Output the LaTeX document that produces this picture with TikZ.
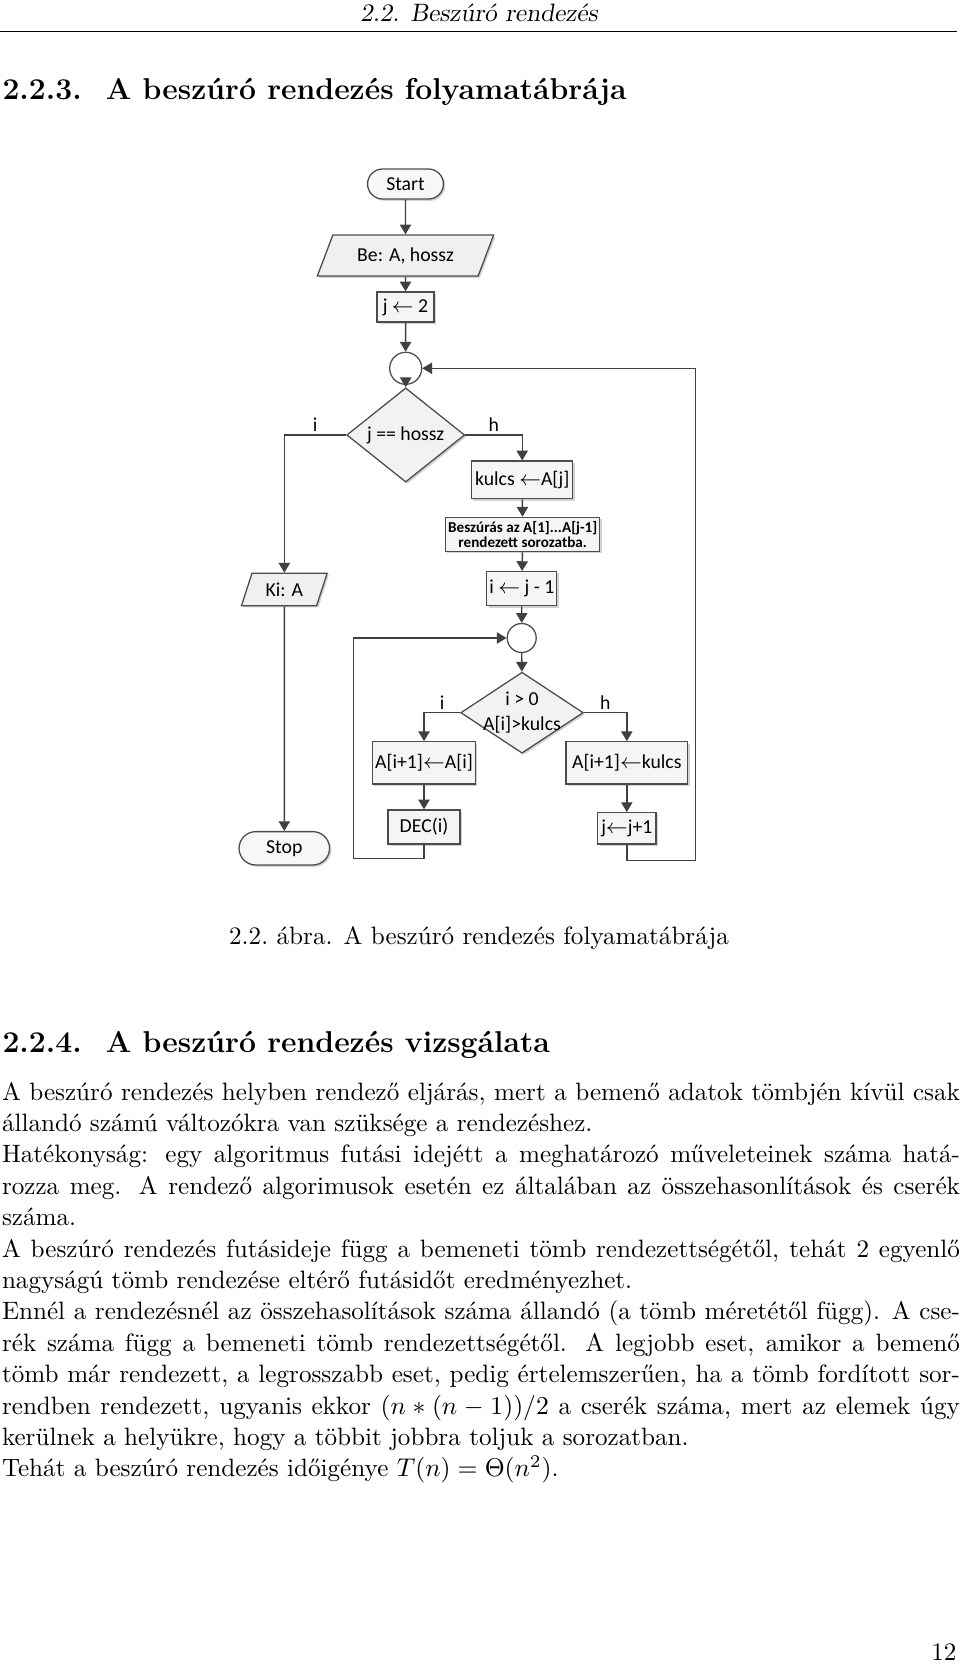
\documentclass[tikz,border=0pt]{standalone}
\usepackage{fontspec}
\usepackage{amsmath}
\usetikzlibrary{arrows.meta,shapes.geometric,shapes.misc,shadows}
\newfontfamily\chartfont{Carlito}
\newlength\bodywidth
\setlength\bodywidth{373.6pt}

\tikzset{
  chart/.style={font=\chartfont\fontsize{7.7}{9}\selectfont},
  line/.style={draw=black!75, line width=0.55pt},
  flow/.style={line, -{Triangle[length=3.8pt,width=4.4pt]}},
  shade/.style={drop shadow={shadow xshift=0.7pt,shadow yshift=-0.7pt,fill=black!35}},
  procbox/.style={rectangle, draw=black!70, fill=black!4, line width=0.5pt, inner sep=1pt, shade, chart},
  iobox/.style={trapezium, trapezium stretches=true, draw=black!70, fill=black!6, line width=0.5pt, inner sep=1pt, shade, chart},
  termbox/.style={rounded rectangle, draw=black!70, fill=black!3, line width=0.5pt, inner sep=1pt, shade, chart},
  joint/.style={circle, draw=black!70, fill=white, line width=0.5pt, inner sep=0pt},
  decision/.style={diamond, draw=black!70, fill=black!5, line width=0.5pt, inner sep=0pt, shade, chart},
  branch/.style={chart, inner sep=1pt},
  pagetext/.style={font=\fontsize{9.8}{12.25}\selectfont, inner sep=0pt},
  sectitle/.style={font=\fontsize{11.75}{14}\selectfont\bfseries, inner sep=0pt}
}

\begin{document}
\begin{tikzpicture}[x=0.39pt,y=-0.39pt]
\useasboundingbox (0,0) rectangle (960,1665);

% page head
\node[pagetext, anchor=base] (head) at (479,22) {\slshape 2.2. Beszúró rendezés};
\draw[line width=0.4pt] (0,31.7) -- (957,31.7);
\node[sectitle, anchor=base west] (sec1) at (2,100) {2.2.3.\hskip 9.4pt A beszúró rendezés folyamatábrája};

% flowchart
\node[termbox, minimum width=31.6pt, minimum height=11.7pt] (start) at (405.5,184) {Start};
\node[iobox, trapezium left angle=63, trapezium right angle=117, minimum width=69pt, minimum height=16pt] (be) at (405.5,255.5) {Be: A, hossz};
\node[procbox, minimum width=22.2pt, minimum height=11.7pt] (j2) at (405.5,307) {j $\leftarrow$ 2};
\node[joint, minimum size=12.5pt] (c1) at (405.7,368.3) {};
\node[decision, minimum width=46pt, minimum height=24.6pt] (d1) at (405.7,435) {j == hossz};

\node[procbox, minimum width=39.4pt, minimum height=14.7pt] (kulcs) at (522.2,479.9) {kulcs $\leftarrow$A[j]};
\node[procbox, minimum width=59.8pt, minimum height=13.4pt, align=center,
      font=\chartfont\fontsize{5.9}{6.2}\selectfont\bfseries] (besz) at (522.7,534.5) {Beszúrás az A[1]...A[j-1]\\rendezett sorozatba.};
\node[procbox, minimum width=26.1pt, minimum height=13.3pt] (ij) at (521.8,588.7) {i $\leftarrow$ j - 1};
\node[joint, minimum size=11.3pt] (c2) at (521.7,638) {};
\node[decision, minimum width=47.8pt, minimum height=31.6pt,
      label={[chart, align=center, inner sep=0pt]center:{i > 0\\[1pt]A[i]>kulcs}}] (d2) at (522,712.7) {};

\node[iobox, trapezium left angle=70, trapezium right angle=110, minimum width=33.4pt, minimum height=12.6pt] (ki) at (284.3,589.5) {Ki: A};
\node[termbox, minimum width=37.3pt, minimum height=13pt] (stop) at (284.3,848.3) {Stop};

\node[procbox, minimum width=39pt, minimum height=16.5pt] (a1) at (424,762.9) {A[i+1]$\leftarrow$A[i]};
\node[procbox, minimum width=28pt, minimum height=13.3pt] (dec) at (424,827) {DEC(i)};
\node[procbox, minimum width=47.5pt, minimum height=16.5pt] (a2) at (626.8,762.9) {A[i+1]$\leftarrow$kulcs};
\node[procbox, minimum width=22.7pt, minimum height=12.2pt] (jj) at (626.8,828.3) {j$\leftarrow$j+1};

\coordinate (lp) at (353.3,858.3);
\coordinate (rp) at (695.7,860.7);

\draw[flow] (start) -- (be);
\draw[flow] (be) -- (j2);
\draw[flow] (j2) -- (c1);
\draw[flow] (c1) -- (d1);
\draw[flow] (d1.west) -| node[branch, pos=0.25, above] {i} (ki.north);
\draw[flow] (ki.south) -- (stop.north);
\draw[flow] (d1.east) -| node[branch, pos=0.25, above] {h} (kulcs.north);
\draw[flow] (kulcs) -- (besz);
\draw[flow] (besz) -- (ij);
\draw[flow] (ij) -- (c2);
\draw[flow] (c2) -- (d2);
\draw[flow] (d2.west) -| node[branch, pos=0.25, above] {i} (a1.north);
\draw[flow] (d2.east) -| node[branch, pos=0.25, above] {h} (a2.north);
\draw[flow] (a1) -- (dec);
\draw[flow] (a2) -- (jj);
\draw[flow] (dec.south) |- (lp) |- (c2.west);
\draw[flow] (jj.south) |- (rp) |- (c1.east);

% caption and text
\node[pagetext, anchor=base] (capt) at (479,944) {2.2.~ábra. A beszúró rendezés folyamatábrája};
\node[sectitle, anchor=base west] (sec2) at (2,1052) {2.2.4.\hskip 9.4pt A beszúró rendezés vizsgálata};

\node[pagetext, anchor=base west] (body) at (1.5,1100) {\vtop{%
\hbox to\bodywidth{A beszúró rendezés helyben rendező eljárás, mert a bemenő adatok tömbjén kívül csak}
\hbox{állandó számú változókra van szüksége a rendezéshez.}
\hbox to\bodywidth{Hatékonyság: egy algoritmus futási idejétt a meghatározó műveleteinek száma hatá-}
\hbox to\bodywidth{rozza meg. A rendező algorimusok esetén ez általában az összehasonlítások és cserék}
\hbox{száma.}
\hbox to\bodywidth{A beszúró rendezés futásideje függ a bemeneti tömb rendezettségétől, tehát 2 egyenlő}
\hbox{nagyságú tömb rendezése eltérő futásidőt eredményezhet.}
\hbox to\bodywidth{Ennél a rendezésnél az összehasolítások száma állandó (a tömb méretétől függ). A cse-}
\hbox to\bodywidth{rék száma függ a bemeneti tömb rendezettségétől. A legjobb eset, amikor a bemenő}
\hbox to\bodywidth{tömb már rendezett, a legrosszabb eset, pedig értelemszerűen, ha a tömb fordított sor-}
\hbox to\bodywidth{rendben rendezett, ugyanis ekkor $(n*(n-1))/2$ a cserék száma, mert az elemek úgy}
\hbox{kerülnek a helyükre, hogy a többit jobbra toljuk a sorozatban.}
\hbox{Tehát a beszúró rendezés időigénye $T(n)=\Theta(n^2)$.}}};

\node[pagetext, anchor=base east] (pnum) at (957,1660) {12};

\end{tikzpicture}
\end{document}
